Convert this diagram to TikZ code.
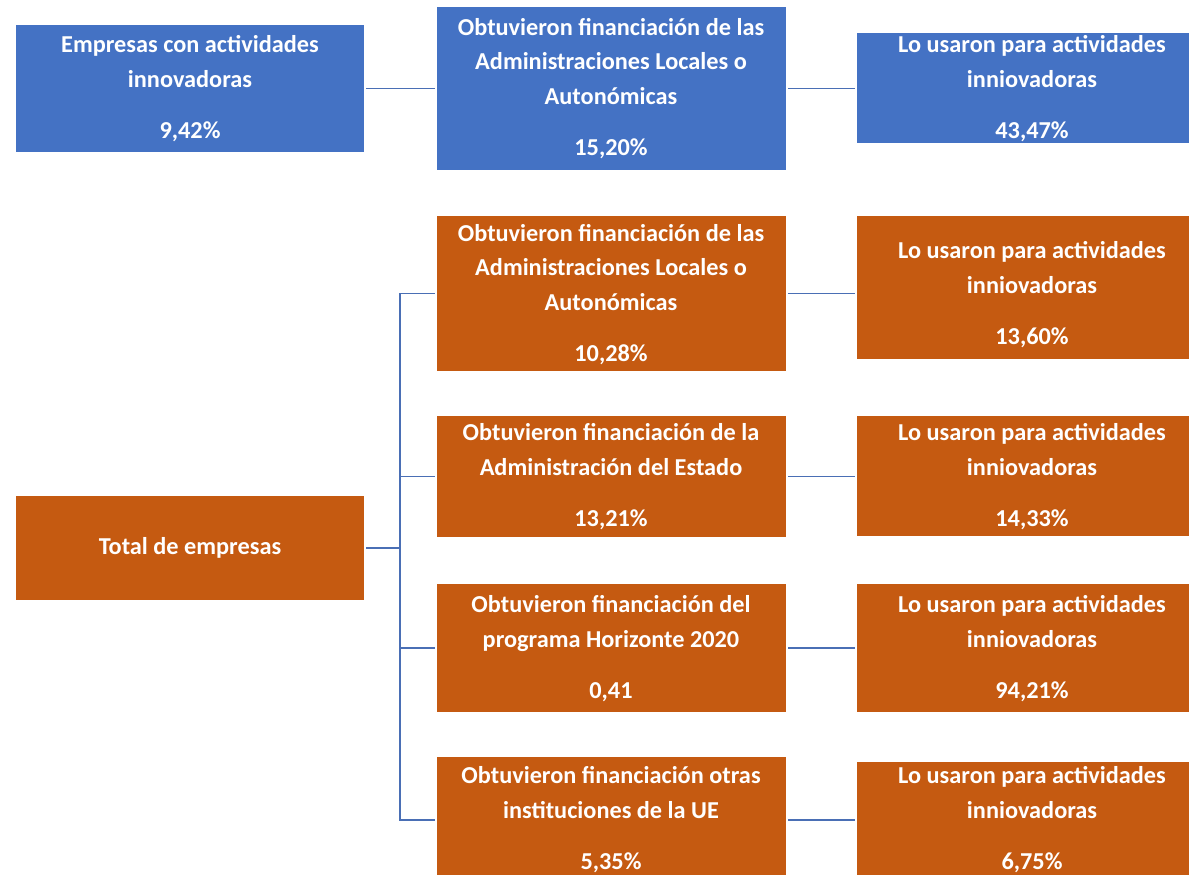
\documentclass[tikz,border=0pt]{standalone}
\usepackage{fontspec}
\setmainfont{Carlito}
\definecolor{cblue}{HTML}{4472C4}
\definecolor{corange}{HTML}{C55A11}
\definecolor{cline}{HTML}{4A6FB5}
\tikzset{
  box/.style={draw=none, inner sep=0pt, outer sep=0pt, anchor=north west},
  bbox/.style={box, fill=cblue},
  obox/.style={box, fill=corange},
  txt/.style={text=white, font=\fontsize{24.3}{34.7}\selectfont\bfseries, align=center, inner sep=0pt},
  conn/.style={draw=cline, line width=1.3pt}
}
\begin{document}
\begin{tikzpicture}[x=1pt,y=-1pt]
\clip (0,0) rectangle (1189,875);
\fill[white] (0,0) rectangle (1189,875);
% blue row
\node[bbox, minimum width=348pt, minimum height=127pt] (A) at (16,25) {};
\node[bbox, minimum width=349pt, minimum height=163pt] (B) at (437,7) {};
\node[bbox, minimum width=350pt, minimum height=110pt] (C) at (857,33) {};
\node[txt] (At) at (190,88.5) {Empresas con actividades\\innovadoras\\[16.5pt]9,42\%};
\node[txt] (Bt) at (611,88.5) {Obtuvieron financiación de las\\Administraciones Locales o\\Autonómicas\\[16.5pt]15,20\%};
\node[txt] (Ct) at (1032,88.5) {Lo usaron para actividades\\inniovadoras\\[16.5pt]43,47\%};
% orange rows
\node[obox, minimum width=348pt, minimum height=104pt] (T) at (16,496) {};
\node[obox, minimum width=349pt, minimum height=155pt] (O1) at (437,216) {};
\node[obox, minimum width=350pt, minimum height=143pt] (R1) at (857,216) {};
\node[obox, minimum width=349pt, minimum height=121pt] (O2) at (437,416) {};
\node[obox, minimum width=350pt, minimum height=120pt] (R2) at (857,416) {};
\node[obox, minimum width=349pt, minimum height=128pt] (O3) at (437,584) {};
\node[obox, minimum width=350pt, minimum height=128pt] (R3) at (857,584) {};
\node[obox, minimum width=349pt, minimum height=126pt] (O4) at (437,757) {};
\node[obox, minimum width=350pt, minimum height=116pt] (R4) at (857,762) {};
\node[txt] (Tt) at (190,548) {Total de empresas};
\node[txt] (O1t) at (611,294.5) {Obtuvieron financiación de las\\Administraciones Locales o\\Autonómicas\\[16.5pt]10,28\%};
\node[txt] (R1t) at (1032,294.5) {Lo usaron para actividades\\inniovadoras\\[16.5pt]13,60\%};
\node[txt] (O2t) at (611,477) {Obtuvieron financiación de la\\Administración del Estado\\[16.5pt]13,21\%};
\node[txt] (R2t) at (1032,477) {Lo usaron para actividades\\inniovadoras\\[16.5pt]14,33\%};
\node[txt] (O3t) at (611,648.5) {Obtuvieron financiación del\\programa Horizonte 2020\\[16.5pt]0,41};
\node[txt] (R3t) at (1032,648.5) {Lo usaron para actividades\\inniovadoras\\[16.5pt]94,21\%};
\node[txt] (O4t) at (611,819.5) {Obtuvieron financiación otras\\instituciones de la UE\\[16.5pt]5,35\%};
\node[txt] (R4t) at (1032,819.5) {Lo usaron para actividades\\inniovadoras\\[16.5pt]6,75\%};
% connectors
\draw[conn] ([xshift=2pt]A.east) -- ([xshift=-2pt]B.west);
\draw[conn] ([xshift=2pt]B.east) -- ([xshift=-2pt]B.east -| C.west);
\coordinate (J) at (400,548);
\draw[conn] ([xshift=2pt]T.east) -- (J);
\draw[conn] (J) |- ([xshift=-2pt]O1.west);
\draw[conn] (J) |- ([xshift=-2pt]O2.west);
\draw[conn] (J) |- ([xshift=-2pt]O3.west);
\draw[conn] (J) |- ([xshift=-2pt]O4.west);
\draw[conn] ([xshift=2pt]O1.east) -- ([xshift=-2pt]O1.east -| R1.west);
\draw[conn] ([xshift=2pt]O2.east) -- ([xshift=-2pt]O2.east -| R2.west);
\draw[conn] ([xshift=2pt]O3.east) -- ([xshift=-2pt]O3.east -| R3.west);
\draw[conn] ([xshift=2pt]O4.east) -- ([xshift=-2pt]O4.east -| R4.west);
\end{tikzpicture}
\end{document}
